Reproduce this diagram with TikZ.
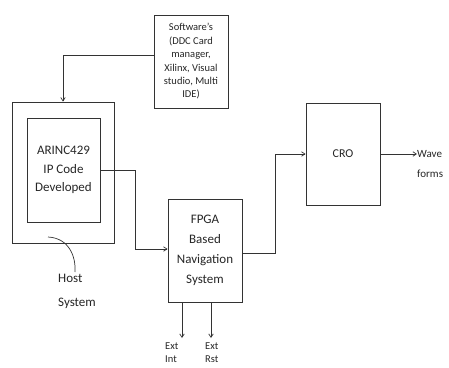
\documentclass[tikz,border=0pt]{standalone}
\usepackage{fontspec}
\setmainfont{Carlito}
\usepackage{tikz}
\usetikzlibrary{arrows.meta,positioning,calc}
\tikzset{
  box/.style={draw=black!80, line width=0.8pt, align=center, inner sep=2pt, text=black!85},
  arrow/.style={-{Straight Barb[length=3.5pt,width=4.5pt]}, line width=0.7pt, draw=black!80},
  line/.style={line width=0.7pt, draw=black!80},
  lbl/.style={align=left, inner sep=0pt, text=black!85}
}
\begin{document}
\begin{tikzpicture}[x=1pt, y=-1pt]
\useasboundingbox (0,0) rectangle (449,367);
% ---- boxes ----
\node[box, minimum width=74, minimum height=93, font=\fontsize{10.5}{13.4}\selectfont] (software) at (191,61.5)
  {Software's\\(DDC Card\\manager,\\Xilinx, Visual\\studio, Multi\\IDE)};
\node[box, minimum width=102, minimum height=141] (host) at (63,172.5) {};
\node[box, minimum width=73, minimum height=104, font=\fontsize{13}{18.5}\selectfont] (arinc) at (63.5,170)
  {ARINC429\\IP Code\\Developed};
\node[box, minimum width=74, minimum height=103, font=\fontsize{13}{20}\selectfont] (fpga) at (205,250.5)
  {FPGA\\Based\\Navigation\\System};
\node[box, minimum width=74, minimum height=102, font=\fontsize{12}{14}\selectfont] (cro) at (343,154) {CRO};
% ---- labels ----
\node[lbl, anchor=north west, font=\fontsize{13}{24}\selectfont] (hostlbl) at (58,274) {Host\\System};
\node[lbl, anchor=west, font=\fontsize{11}{20}\selectfont] (wave) at (417,164) {Wave\\forms};
\node[lbl, anchor=north west, font=\fontsize{10.5}{13}\selectfont] (extint) at (165,343) {Ext\\Int};
\node[lbl, anchor=north west, font=\fontsize{10.5}{13}\selectfont] (extrst) at (205,343) {Ext\\Rst};
\coordinate (intend) at (182,338);
\coordinate (rstend) at (211,338);
% ---- connectors ----
\draw[arrow] ([yshift=6.5]software.west) -| (host.north);
\draw[arrow] (arinc.east) -- ++(35,0) |- ([yshift=1.5]fpga.west);
\draw[arrow] ([yshift=-2.5]fpga.east) -- ++(33,0) |- (cro.west);
\draw[arrow] (cro.east) -- (cro.east -| wave.west);
\draw[arrow] (fpga.south -| intend) -- (intend);
\draw[arrow] (fpga.south -| rstend) -- (rstend);
\draw[line] (48,237) .. controls (68,238) and (76,255) .. (75,272);
\end{tikzpicture}
\end{document}
